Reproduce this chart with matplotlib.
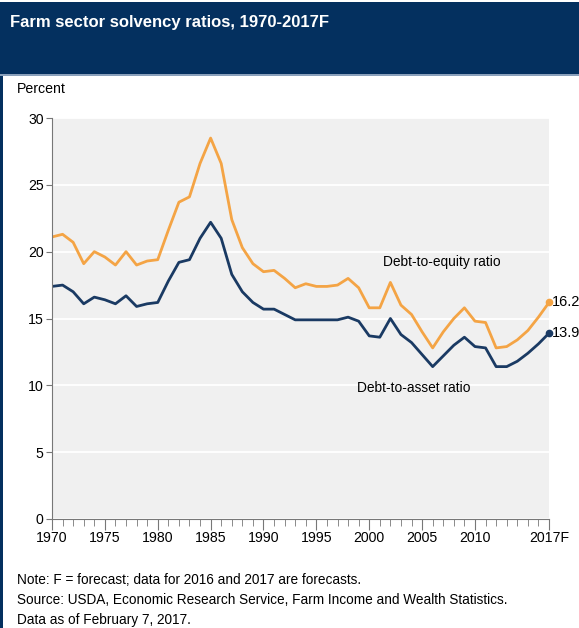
import matplotlib.pyplot as plt
import matplotlib.patches as patches
import numpy as np

plt.rcParams['font.family'] = ['Liberation Sans', 'DejaVu Sans']

years = list(range(1970, 2018))
debt_equity = [21.1, 21.3, 20.7, 19.1, 20.0, 19.6, 19.0, 20.0, 19.0, 19.3, 19.4,
               21.6, 23.7, 24.1, 26.6, 28.5, 26.6, 22.4, 20.3, 19.1, 18.5, 18.6,
               18.0, 17.3, 17.6, 17.4, 17.4, 17.5, 18.0, 17.3, 15.8, 15.8, 17.7,
               16.0, 15.3, 14.0, 12.8, 14.0, 15.0, 15.8, 14.8, 14.7, 12.8, 12.9,
               13.4, 14.1, 15.1, 16.2]
debt_asset = [17.4, 17.5, 17.0, 16.1, 16.6, 16.4, 16.1, 16.7, 15.9, 16.1, 16.2,
              17.8, 19.2, 19.4, 21.0, 22.2, 21.0, 18.3, 17.0, 16.2, 15.7, 15.7,
              15.3, 14.9, 14.9, 14.9, 14.9, 14.9, 15.1, 14.8, 13.7, 13.6, 15.0,
              13.8, 13.2, 12.3, 11.4, 12.2, 13.0, 13.6, 12.9, 12.8, 11.4, 11.4,
              11.8, 12.4, 13.1, 13.9]
yticks = [0, 5, 10, 15, 20, 25, 30]
xtick_years = [1970, 1975, 1980, 1985, 1990, 1995, 2000, 2005, 2010, 2017]
xtick_labels = ['1970', '1975', '1980', '1985', '1990', '1995', '2000', '2005', '2010', '2017F']

orange = '#f4a445'
navy = '#1a3a63'
header = '#04305f'

fig = plt.figure(figsize=(5.79, 6.28), dpi=100)

# header band and frame
fig.patches.append(patches.Rectangle((0, 1 - 75/628), 1, 73/628, transform=fig.transFigure,
                                     facecolor=header, edgecolor='none'))
fig.patches.append(patches.Rectangle((0, 1 - 76/628), 1, 2/628, transform=fig.transFigure,
                                     facecolor='#8aa0bb', edgecolor='none'))
fig.patches.append(patches.Rectangle((0, 0), 3/579, 1 - 76/628, transform=fig.transFigure,
                                     facecolor=header, edgecolor='none'))
fig.text(10/579, 1 - 22/628, 'Farm sector solvency ratios, 1970-2017F', color='white',
         fontsize=12, fontweight='bold', va='center', ha='left')
fig.text(17/579, 1 - 89/628, 'Percent', fontsize=10.2, va='center', ha='left')

ax = fig.add_axes([52/579, 1 - 519/628, 497/579, 401/628])
ax.set_facecolor('#f0f0f0')
ax.set_xlim(1970, 2017)
ax.set_ylim(0, 30)
ax.grid(axis='y', color='white', linewidth=1.3)
ax.set_axisbelow(True)

ax.plot(years, debt_equity, color=orange, linewidth=2)
ax.plot(years, debt_asset, color=navy, linewidth=2)
ax.plot(years[-1], debt_equity[-1], 'o', color=orange, markersize=4.5, clip_on=False)
ax.plot(years[-1], debt_asset[-1], 'o', color=navy, markersize=4.5, clip_on=False)

ax.text(2017.3, debt_equity[-1], '{:.1f}'.format(debt_equity[-1]), fontsize=10.5,
        va='center', ha='left')
ax.text(2017.3, debt_asset[-1], '{:.1f}'.format(debt_asset[-1]), fontsize=10.5,
        va='center', ha='left')
ax.text(2006.9, 19.2, 'Debt-to-equity ratio', fontsize=9.9, ha='center', va='center')
ax.text(2004.2, 9.8, 'Debt-to-asset ratio', fontsize=9.9, ha='center', va='center')

for s in ['top', 'right']:
    ax.spines[s].set_visible(False)
ax.spines['left'].set_color('#777777')
ax.spines['bottom'].set_color('#777777')
ax.set_yticks(yticks)
ax.set_yticklabels([str(v) for v in yticks], fontsize=10.2)
ax.set_xticks(xtick_years)
ax.set_xticklabels(xtick_labels, fontsize=10.2)
ax.set_xticks(list(range(1970, 2018)), minor=True)
ax.tick_params(axis='x', which='major', length=8, color='#777777', pad=1)
ax.tick_params(axis='x', which='minor', length=5, color='#777777')
ax.tick_params(axis='y', length=4, color='#777777', pad=2)

notes = ['Note: F = forecast; data for 2016 and 2017 are forecasts.',
         'Source: USDA, Economic Research Service, Farm Income and Wealth Statistics.',
         'Data as of February 7, 2017.']
for i, line in enumerate(notes):
    fig.text(17/579, 1 - (580 + 20*i)/628, line, fontsize=9.8, va='center', ha='left')

fig.savefig('out.png', dpi=100)
